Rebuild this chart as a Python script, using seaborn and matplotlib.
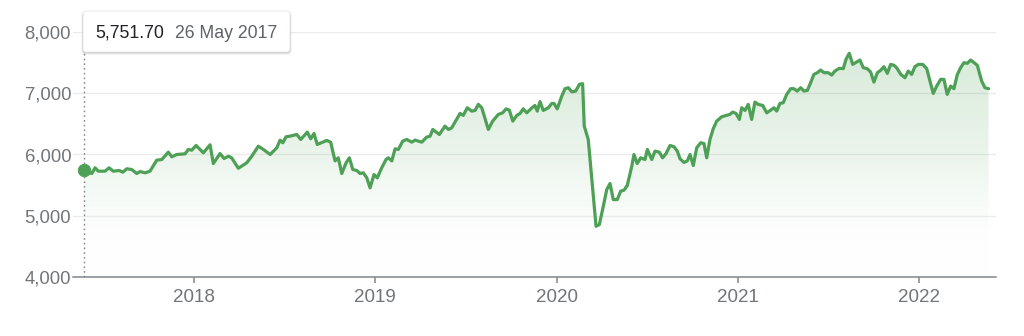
import numpy as np
import pandas as pd
import matplotlib
matplotlib.use("Agg")
import matplotlib.pyplot as plt
import seaborn as sns
from matplotlib.patches import FancyBboxPatch
from matplotlib.colors import LinearSegmentedColormap
from matplotlib.transforms import IdentityTransform

# ---------------- data ----------------
years = [
    2017.395, 2017.438, 2017.456, 2017.474, 2017.511, 2017.533, 2017.557, 2017.590, 2017.609, 2017.631,
    2017.658, 2017.686, 2017.704, 2017.732, 2017.759, 2017.796, 2017.824, 2017.860, 2017.879, 2017.906,
    2017.952, 2017.970, 2017.989, 2018.013, 2018.053, 2018.090, 2018.108, 2018.145, 2018.167, 2018.191,
    2018.209, 2018.246, 2018.292, 2018.320, 2018.356, 2018.384, 2018.421, 2018.458, 2018.476, 2018.491,
    2018.509, 2018.531, 2018.568, 2018.590, 2018.626, 2018.645, 2018.663, 2018.681, 2018.733, 2018.755,
    2018.779, 2018.797, 2018.816, 2018.840, 2018.858, 2018.877, 2018.899, 2018.917, 2018.935, 2018.954,
    2018.972, 2018.994, 2019.012, 2019.036, 2019.060, 2019.073, 2019.092, 2019.110, 2019.128, 2019.152,
    2019.174, 2019.202, 2019.220, 2019.257, 2019.284, 2019.303, 2019.318, 2019.354, 2019.385, 2019.404,
    2019.422, 2019.468, 2019.486, 2019.508, 2019.533, 2019.551, 2019.569, 2019.588, 2019.624, 2019.648,
    2019.679, 2019.703, 2019.722, 2019.740, 2019.759, 2019.781, 2019.799, 2019.817, 2019.836, 2019.863,
    2019.881, 2019.894, 2019.909, 2019.927, 2019.955, 2019.974, 2019.986, 2020.004, 2020.029, 2020.047,
    2020.065, 2020.084, 2020.106, 2020.126, 2020.144, 2020.153, 2020.175, 2020.218, 2020.236, 2020.258,
    2020.277, 2020.295, 2020.313, 2020.335, 2020.354, 2020.372, 2020.390, 2020.415, 2020.427, 2020.445,
    2020.464, 2020.488, 2020.501, 2020.525, 2020.543, 2020.567, 2020.585, 2020.604, 2020.626, 2020.648,
    2020.666, 2020.681, 2020.703, 2020.721, 2020.736, 2020.754, 2020.773, 2020.795, 2020.813, 2020.828,
    2020.846, 2020.864, 2020.883, 2020.911, 2020.938, 2020.956, 2020.971, 2020.990, 2021.008, 2021.021,
    2021.039, 2021.057, 2021.076, 2021.094, 2021.112, 2021.137, 2021.159, 2021.181, 2021.199, 2021.214,
    2021.232, 2021.250, 2021.269, 2021.291, 2021.309, 2021.327, 2021.346, 2021.364, 2021.383, 2021.401,
    2021.419, 2021.438, 2021.456, 2021.475, 2021.498, 2021.517, 2021.535, 2021.559, 2021.581, 2021.596,
    2021.614, 2021.633, 2021.655, 2021.673, 2021.691, 2021.713, 2021.732, 2021.750, 2021.769, 2021.787,
    2021.805, 2021.824, 2021.842, 2021.861, 2021.875, 2021.898, 2021.921, 2021.939, 2021.958, 2021.976,
    2021.995, 2022.019, 2022.041, 2022.059, 2022.077, 2022.096, 2022.118, 2022.136, 2022.154, 2022.173,
    2022.191, 2022.210, 2022.228, 2022.246, 2022.265, 2022.283, 2022.302, 2022.320, 2022.344, 2022.362,
    2022.382,
]
values = [
    5751.7, 5689, 5782, 5727, 5727, 5782, 5727, 5738, 5710, 5766,
    5754, 5689, 5721, 5700, 5727, 5907, 5918, 6038, 5962, 6000,
    6011, 6082, 6071, 6148, 6028, 6159, 5852, 6016, 5934, 5972,
    5946, 5775, 5864, 5972, 6136, 6082, 6000, 6110, 6235, 6192,
    6290, 6300, 6328, 6246, 6366, 6257, 6344, 6164, 6230, 6202,
    5895, 5946, 5689, 5864, 5946, 5754, 5738, 5689, 5700, 5618,
    5454, 5672, 5618, 5780, 5918, 5946, 5895, 6093, 6082, 6218,
    6246, 6202, 6235, 6202, 6284, 6300, 6410, 6328, 6464, 6410,
    6436, 6672, 6640, 6765, 6710, 6721, 6820, 6765, 6410, 6546,
    6656, 6682, 6747, 6726, 6546, 6640, 6672, 6747, 6682, 6760,
    6803, 6710, 6866, 6721, 6765, 6836, 6836, 6747, 6956, 7077,
    7093, 7027, 7038, 7148, 7159, 6464, 6246, 4825, 4852, 5153,
    5426, 5525, 5262, 5262, 5400, 5416, 5492, 5808, 6000, 5852,
    5946, 5918, 6082, 5918, 6055, 6038, 5946, 6016, 6148, 6126,
    6055, 5930, 5870, 5895, 6000, 5820, 6110, 6192, 6180, 5946,
    6246, 6421, 6546, 6618, 6640, 6656, 6694, 6672, 6574, 6765,
    6721, 6820, 6574, 6858, 6820, 6803, 6682, 6726, 6765, 6710,
    6836, 6847, 6984, 7077, 7077, 7038, 7093, 7038, 7049, 7175,
    7311, 7339, 7382, 7339, 7339, 7300, 7366, 7410, 7405, 7557,
    7656, 7475, 7513, 7546, 7421, 7405, 7349, 7185, 7339, 7377,
    7438, 7328, 7475, 7459, 7421, 7311, 7257, 7366, 7311, 7438,
    7475, 7475, 7405, 7202, 7000, 7120, 7230, 7230, 6984, 7120,
    7077, 7311, 7421, 7503, 7492, 7546, 7503, 7459, 7202, 7093,
    7077,
]
y_ticks = [4000, 5000, 6000, 7000, 8000]
x_ticks = [2018, 2019, 2020, 2021, 2022]
x_tick_labels = ["2018", "2019", "2020", "2021", "2022"]
tooltip_value = "5,751.70"
tooltip_date = "26 May 2017"

# ---------------- style ----------------
sns.set_theme(style="white")
plt.rcParams["font.family"] = ["Liberation Sans", "DejaVu Sans"]

GREEN = "#4da055"
AXIS_GREY = "#80868b"
LABEL_GREY = "#70757a"

W, H = 1024, 336
fig = plt.figure(figsize=(W / 100, H / 100), dpi=100)
fig.patch.set_facecolor("white")
ax = fig.add_axes([73.3 / W, 59.3 / H, (996 - 73.3) / W, (276.7 - 32.3) / H])
ax.set_facecolor("white")

df = pd.DataFrame({"year": years, "value": values})

XMIN, XMAX = 2017.336, 2022.423
YMIN, YMAX = y_ticks[0], y_ticks[-1]

# gradient area under the line
poly = ax.fill_between(df["year"], df["value"], YMIN, color="none", lw=0)
cmap = LinearSegmentedColormap.from_list(
    "fade", [(1, 1, 1, 0.0), (0.30, 0.63, 0.33, 0.10), (0.30, 0.63, 0.33, 0.22)]
)
grad = np.linspace(0, 1, 256).reshape(-1, 1)
im = ax.imshow(grad, extent=[df["year"].min(), df["year"].max(), YMIN, df["value"].max()],
               origin="lower", aspect="auto", cmap=cmap, zorder=1, interpolation="bicubic")
im.set_clip_path(poly.get_paths()[0], transform=ax.transData)

# line
sns.lineplot(data=df, x="year", y="value", ax=ax, color=GREEN, lw=2.3, sort=False,
             zorder=3, legend=False)

# hover guide and start marker
ax.axvline(df["year"].iloc[0], ymin=0, ymax=0.915, color=AXIS_GREY, lw=1,
           ls=(0, (1.2, 2.2)), zorder=2, clip_on=False)
sns.scatterplot(x=[df["year"].iloc[0]], y=[df["value"].iloc[0]], ax=ax, s=80,
                color=GREEN, edgecolor=GREEN, zorder=4, legend=False, clip_on=False)

ax.set_xlim(XMIN, XMAX)
ax.set_ylim(YMIN, YMAX)

# axes styling
ax.set_yticks(y_ticks)
ax.set_yticklabels([f"{v:,}" for v in y_ticks])
ax.set_xticks(x_ticks)
ax.set_xticklabels(x_tick_labels)
ax.yaxis.grid(True, color="#ececec", lw=1)
ax.xaxis.grid(False)
ax.set_axisbelow(True)
for s in ["left", "right", "top"]:
    ax.spines[s].set_visible(False)
ax.spines["bottom"].set_color(AXIS_GREY)
ax.spines["bottom"].set_linewidth(1.1)
ax.tick_params(axis="y", length=0, pad=1.5, labelsize=13.3, labelcolor=LABEL_GREY)
ax.tick_params(axis="x", length=4.5, width=1.1, color=AXIS_GREY, pad=4,
               labelsize=13.5, labelcolor=LABEL_GREY, bottom=True)
ax.set_xlabel("")
ax.set_ylabel("")

# tooltip box (pixel coordinates)
bx, by, bw, bh = 83, H - 52, 207, 41
for off, a in [(3, 0.05), (2, 0.07), (1, 0.10)]:
    sh = FancyBboxPatch((bx - off * 0.5, by - off), bw + off, bh + off * 0.5,
                        boxstyle="round,pad=0,rounding_size=4", transform=IdentityTransform(),
                        facecolor=(0, 0, 0, a), edgecolor="none", zorder=9)
    fig.add_artist(sh)
box = FancyBboxPatch((bx, by), bw, bh, boxstyle="round,pad=0,rounding_size=3",
                     transform=IdentityTransform(), facecolor="white",
                     edgecolor="#e6e6e6", lw=0.6, zorder=10)
fig.add_artist(box)
fig.text(95 / W, 1 - 37.7 / H, tooltip_value, fontsize=12.7, color="#202124",
         va="baseline", ha="left", zorder=11)
fig.text(175 / W, 1 - 37.7 / H, tooltip_date, fontsize=12.7, color="#5f6368",
         va="baseline", ha="left", zorder=11)

fig.savefig("out.png", dpi=100, facecolor="white")
